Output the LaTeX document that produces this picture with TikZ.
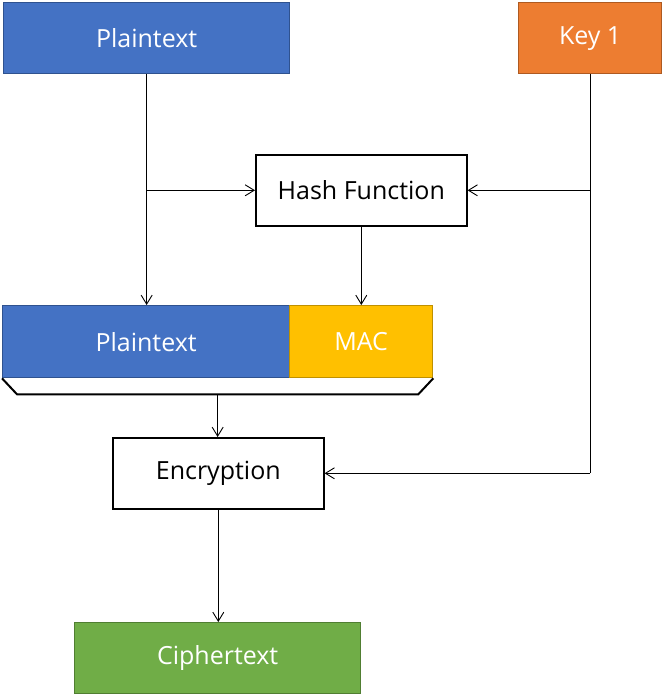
\documentclass[tikz,border=0pt]{standalone}
\usepackage{fontspec}
\setmainfont{Open Sans}
\usetikzlibrary{arrows.meta,calc}
\definecolor{blueF}{HTML}{4472C4}\definecolor{blueD}{HTML}{2F528F}
\definecolor{orF}{HTML}{ED7D31}\definecolor{orD}{HTML}{AE5A21}
\definecolor{yeF}{HTML}{FFC000}\definecolor{yeD}{HTML}{BF9000}
\definecolor{grF}{HTML}{70AD47}\definecolor{grD}{HTML}{507E32}
\tikzset{
  box/.style={draw, line width=1.6pt, inner sep=0pt, font=\fontsize{25}{30}\selectfont, anchor=north west},
  colbox/.style={box, line width=1.3pt, text=white},
  conn/.style={draw, line width=0.9pt, -{Straight Barb[length=9pt,width=11pt,line width=0.9pt]}},
  plain/.style={draw, line width=0.9pt},
}
\begin{document}
\begin{tikzpicture}[x=1pt,y=-1pt]
\useasboundingbox (0,0) rectangle (663,696);
\node[colbox, fill=blueF, draw=blueD, minimum width=286pt, minimum height=71pt] (pt1) at (3,2) {Plaintext};
\node[colbox, fill=orF, draw=orD, minimum width=143pt, minimum height=71pt] (key) at (518,2) {Key 1};
\node[box, fill=white, minimum width=211pt, minimum height=71pt] (hash) at (255,154) {Hash Function};
\node[colbox, fill=blueF, draw=blueD, minimum width=287pt, minimum height=72pt] (pt2) at (2,305) {Plaintext};
\node[colbox, fill=yeF, draw=yeD, minimum width=143pt, minimum height=72pt] (mac) at (289,305) {MAC};
\node[box, fill=white, minimum width=211pt, minimum height=71pt] (enc) at (112,437) {Encryption};
\node[colbox, fill=grF, draw=grD, minimum width=286pt, minimum height=71pt] (ct) at (74,622) {Ciphertext};
% brace under the combined block
\draw[line width=2pt] (pt2.south west) -- ++(15,16) coordinate (bl) -- ($(mac.south east)+(-15,16)$) coordinate (br) -- (mac.south east);
\coordinate (bm) at ($(bl)!0.5!(br)$);
% connectors
\coordinate (pj) at (pt1.south |- hash.west);
\coordinate (kj) at (key.south |- hash.east);
\coordinate (ke) at (key.south |- enc.east);
\path[plain] (pt1.south) -- (pj);
\path[conn] (pj) -- (hash.west);
\path[conn] (pj) -- (pj |- pt2.north);
\path[plain] (key.south) -- (ke);
\path[conn] (kj) -- (hash.east);
\path[conn] (ke) -- (enc.east);
\path[conn] (hash.south) -- (hash.south |- mac.north);
\path[conn] (bm) -- (bm |- enc.north);
\path[conn] (enc.south) -- (enc.south |- ct.north);
\end{tikzpicture}
\end{document}
